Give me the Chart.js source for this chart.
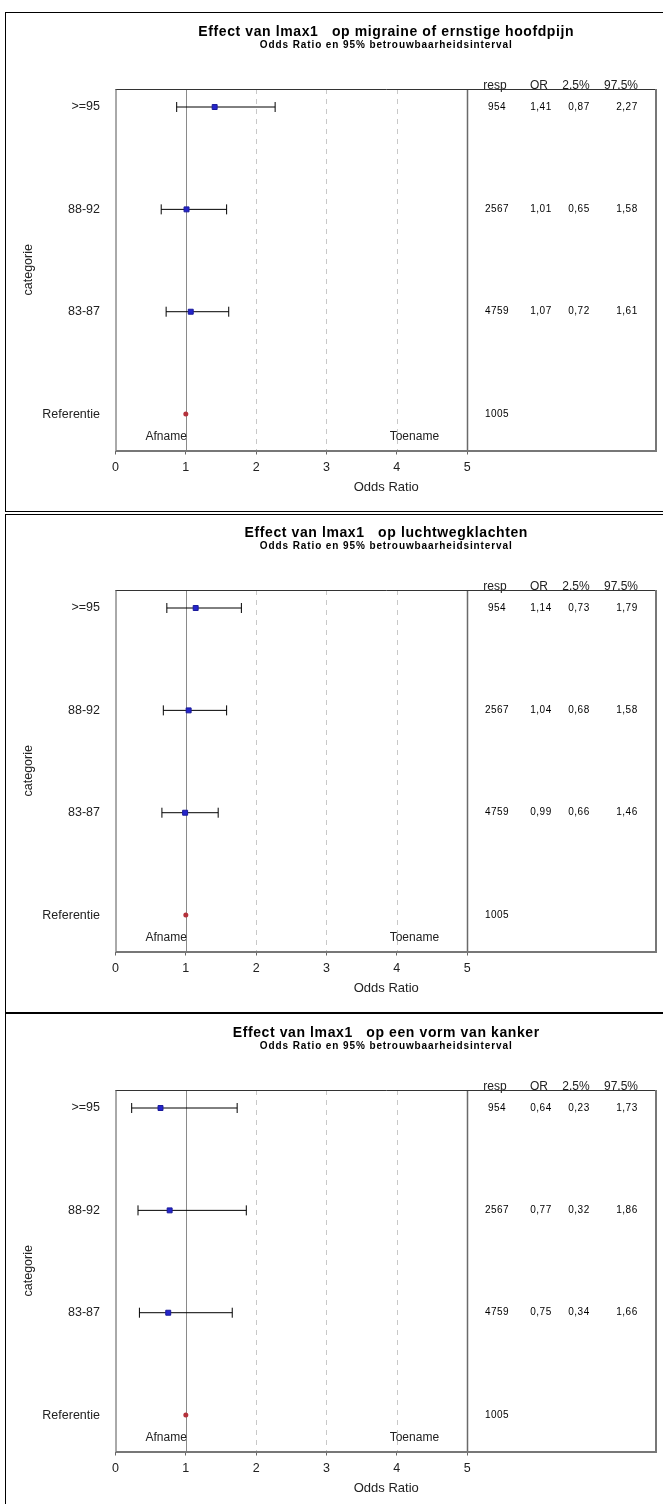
<!DOCTYPE html>
<html><head><meta charset="utf-8">
<script src="https://cdn.jsdelivr.net/npm/chart.js@4.4.0/dist/chart.umd.min.js"></script>
<style>
html,body{margin:0;padding:0;background:#fff;width:663px;height:1504px;overflow:hidden;position:relative}
.frame{position:absolute;left:5px;width:720px;height:500px;border:1px solid #000;box-sizing:border-box;pointer-events:none}
canvas{position:absolute;left:0}
</style></head><body>
<canvas id="c1" width="663" height="500" style="top:12px;width:663px;height:500px"></canvas>
<canvas id="c2" width="663" height="500" style="top:513px;width:663px;height:500px"></canvas>
<canvas id="c3" width="663" height="500" style="top:1013px;width:663px;height:500px"></canvas>
<div class="frame" style="top:12px"></div>
<div class="frame" style="top:514px"></div>
<div class="frame" style="top:1012px"></div>
<script>
// ---- data ----
const categories = ['>=95', '88-92', '83-87', 'Referentie'];
const respCounts = [954, 2567, 4759, 1005];
const tableHeaders = ['resp', 'OR', '2.5%', '97.5%'];
const xTickValues = [0, 1, 2, 3, 4, 5];
const refLineValues = [1, 2, 3, 4, 5];
const referenceOR = 1;
const subtitleText = 'Odds Ratio en 95% betrouwbaarheidsinterval';
const panelTitles = [
  'Effect van lmax1   op migraine of ernstige hoofdpijn',
  'Effect van lmax1   op luchtwegklachten',
  'Effect van lmax1   op een vorm van kanker'
];
const directionLabels = ['Afname', 'Toename'];
const migraineOR = [1.41, 1.01, 1.07];
const migraineLow = [0.87, 0.65, 0.72];
const migraineHigh = [2.27, 1.58, 1.61];
const luchtOR = [1.14, 1.04, 0.99];
const luchtLow = [0.73, 0.68, 0.66];
const luchtHigh = [1.79, 1.58, 1.46];
const kankerOR = [0.64, 0.77, 0.75];
const kankerLow = [0.23, 0.32, 0.34];
const kankerHigh = [1.73, 1.86, 1.66];

// ---- rendering ----
const FONT = "'Liberation Sans', Arial, sans-serif";
const fmt = v => v.toFixed(2).replace('.', ',');

const decor = {
  id: 'decor',
  beforeDatasetsDraw(chart, args, o) {
    const {ctx, chartArea: a, scales: {x}} = chart;
    ctx.save();
    refLineValues.forEach(v => {
      const px = Math.round(x.getPixelForValue(v)) + 0.5;
      ctx.beginPath();
      if (v === 1) { ctx.strokeStyle = '#8a8a8a'; ctx.lineWidth = 1; ctx.setLineDash([]); }
      else if (v === 5) { ctx.strokeStyle = '#6a6a6a'; ctx.lineWidth = 1.5; ctx.setLineDash([]); }
      else { ctx.strokeStyle = '#c8c8c8'; ctx.lineWidth = 1; ctx.setLineDash([5, 5]); }
      ctx.moveTo(px, a.top); ctx.lineTo(px, a.bottom); ctx.stroke();
    });
    ctx.setLineDash([]);
    // frame
    ctx.strokeStyle = '#333'; ctx.lineWidth = 1;
    ctx.beginPath(); ctx.moveTo(a.left, a.top + 0.5); ctx.lineTo(a.right, a.top + 0.5); ctx.stroke();
    ctx.strokeStyle = '#555';
    ctx.beginPath(); ctx.moveTo(a.left + 0.5, a.top); ctx.lineTo(a.left + 0.5, a.bottom); ctx.stroke();
    ctx.strokeStyle = '#777'; ctx.lineWidth = 2;
    ctx.beginPath(); ctx.moveTo(a.right - 1, a.top); ctx.lineTo(a.right - 1, a.bottom + 1); ctx.stroke();
    ctx.beginPath(); ctx.moveTo(a.left, a.bottom + 0.5); ctx.lineTo(a.right, a.bottom + 0.5); ctx.stroke();
    ctx.restore();
  },
  afterDraw(chart, args, o) {
    const {ctx, chartArea: a, scales: {x, y}} = chart;
    const cx = (a.left + a.right) / 2;
    ctx.save();
    ctx.fillStyle = '#000';
    ctx.textAlign = 'center';
    ctx.textBaseline = 'middle';
    ctx.font = 'bold 14px ' + FONT;
    ctx.letterSpacing = '0.6px';
    ctx.fillText(o.title, cx, 20);
    ctx.font = 'bold 10px ' + FONT;
    ctx.letterSpacing = '0.9px';
    ctx.fillText(subtitleText, cx, 33);
    ctx.letterSpacing = '0px';
    // table header
    ctx.font = '12px ' + FONT;
    ctx.fillStyle = '#222';
    tableHeaders.forEach((h, j) => ctx.fillText(h, o.headerX[j], 74));
    // table values
    ctx.font = '10px ' + FONT;
    ctx.letterSpacing = '0.5px';
    ctx.fillStyle = '#000';
    categories.forEach((c, i) => {
      const py = y.getPixelForValue(i);
      const row = i < o.ors.length
        ? [String(respCounts[i]), fmt(o.ors[i]), fmt(o.lows[i]), fmt(o.highs[i])]
        : [String(respCounts[i])];
      row.forEach((t, j) => ctx.fillText(t, o.colX[j], py));
    });
    ctx.letterSpacing = '0px';
    // Afname / Toename
    ctx.font = '12px ' + FONT;
    ctx.fillStyle = '#222';
    directionLabels.forEach((t, k) => {
      ctx.fillText(t, x.getPixelForValue(o.dirX[k]), y.getPixelForValue(o.dirY));
    });
    ctx.restore();
  }
};

function buildChart(id, title, ors, lows, highs) {
  const errorSets = ors.map((_, i) => ({
    data: [{x: lows[i], y: i}, {x: highs[i], y: i}],
    showLine: true, borderColor: '#000', borderWidth: 1,
    pointStyle: 'line', pointRadius: 5, pointRotation: 90,
    pointBorderColor: '#000', pointBorderWidth: 1, pointBackgroundColor: '#000',
    order: 2
  }));
  const pointSet = {
    data: ors.map((v, i) => ({x: v, y: i})),
    pointStyle: 'rect', pointRadius: 3.5,
    pointBackgroundColor: '#2525cc', pointBorderColor: '#1a1a9a', pointBorderWidth: 1,
    showLine: false, order: 0
  };
  const refSet = {
    data: [{x: referenceOR, y: categories.length - 1}],
    pointStyle: 'circle', pointRadius: 2.5,
    pointBackgroundColor: '#b4323c', pointBorderColor: '#b4323c', pointBorderWidth: 0,
    showLine: false, order: 0
  };
  return new Chart(document.getElementById(id), {
    type: 'scatter',
    data: {datasets: [pointSet, refSet, ...errorSets]},
    options: {
      responsive: false, animation: false, events: [],
      layout: {padding: {top: 77, right: 3, left: 0, bottom: 0}},
      plugins: {
        legend: {display: false}, tooltip: {enabled: false},
        decor: {
          title, ors, lows, highs,
          headerX: [495, 539, 576, 621],
          colX: [497, 541, 579, 627],
          dirX: [0.72, 4.25], dirY: 3.225
        }
      },
      scales: {
        x: {
          type: 'linear', min: 0, max: 7.7,
          afterBuildTicks: s => { s.ticks = xTickValues.map(v => ({value: v})); },
          afterFit: s => { s.height = 61.5; },
          ticks: {font: {size: 12.5, family: FONT}, color: '#222', padding: 6, maxRotation: 0,
                  callback: v => String(v)},
          grid: {drawOnChartArea: false, drawTicks: true, tickLength: 4, color: '#666', lineWidth: 1},
          border: {display: false},
          title: {display: true, text: 'Odds Ratio', font: {size: 13, family: FONT}, color: '#222',
                  padding: {top: 0, bottom: 16.8}}
        },
        y: {
          type: 'linear', reverse: true, min: -0.176, max: 3.356,
          afterBuildTicks: s => { s.ticks = categories.map((c, i) => ({value: i})); },
          afterFit: s => { s.width = 115.5; },
          ticks: {font: {size: 12.5, family: FONT}, color: '#222', padding: 7.5,
                  callback: v => categories[v] ?? ''},
          grid: {display: false},
          border: {display: false},
          title: {display: true, text: 'categorie', font: {size: 12.5, family: FONT}, color: '#222',
                  padding: {top: 21, bottom: 0}}
        }
      }
    },
    plugins: [decor]
  });
}

buildChart('c1', panelTitles[0], migraineOR, migraineLow, migraineHigh);
buildChart('c2', panelTitles[1], luchtOR, luchtLow, luchtHigh);
buildChart('c3', panelTitles[2], kankerOR, kankerLow, kankerHigh);
</script>
</body></html>
